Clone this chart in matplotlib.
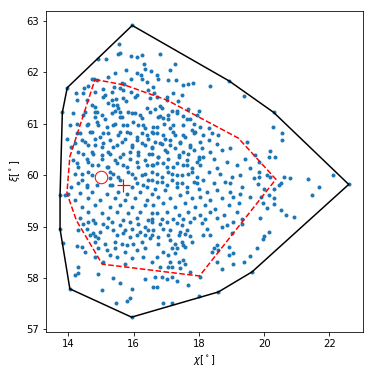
import numpy as np
import matplotlib
matplotlib.use("Agg")
import matplotlib.pyplot as plt

# sample points (chi, xi) in degrees
upper_left = [
    (15.55, 62.54), (15.51, 62.35), (15.60, 62.37), (14.90, 62.25), (15.16, 62.25),
    (15.91, 62.32), (16.11, 62.30), (16.26, 62.33), (16.33, 62.17), (15.43, 61.99),
    (15.76, 62.04), (16.11, 61.99), (16.23, 61.95), (16.35, 62.06), (14.72, 61.86),
    (14.80, 61.87), (14.87, 61.84), (15.23, 61.91), (15.64, 61.79), (15.72, 61.77),
    (15.92, 61.86), (16.25, 61.86), (16.40, 61.82), (14.48, 61.70), (14.61, 61.73),
    (15.07, 61.68), (15.41, 61.71), (15.58, 61.70), (14.24, 61.60), (14.82, 61.62),
    (15.69, 61.65), (15.92, 61.62), (16.05, 61.52), (16.45, 61.65), (14.26, 61.47),
    (14.56, 61.46), (15.07, 61.52), (15.33, 61.46), (15.45, 61.48), (15.69, 61.49),
    (15.76, 61.45), (16.51, 61.49), (14.72, 61.36), (14.82, 61.33), (15.23, 61.40),
    (15.38, 61.36), (15.49, 61.37), (15.53, 61.30), (16.40, 61.30), (14.51, 61.22),
    (14.87, 61.23), (15.42, 61.24), (15.58, 61.22), (15.84, 61.23), (16.05, 61.20),
    (16.25, 61.12), (14.82, 61.13), (15.13, 61.10), (15.64, 61.13), (15.96, 62.91),
    (13.97, 61.70), (13.82, 61.22), (16.52, 62.02),
    (14.46, 61.59), (15.13, 61.55), (15.33, 61.62), (16.10, 61.55), (16.71, 61.52),
]

upper_right = [
    (16.81, 62.36), (17.27, 62.17), (17.12, 62.04), (16.71, 61.95), (16.76, 61.86),
    (17.07, 61.84), (17.30, 61.84), (17.50, 61.75), (17.68, 61.78), (17.81, 61.80),
    (18.33, 61.73), (18.93, 61.83), (19.39, 61.53), (16.61, 61.72), (16.63, 61.60),
    (17.22, 61.60), (17.04, 61.51), (17.48, 61.55), (17.37, 61.44), (17.02, 61.46),
    (16.81, 61.34), (16.66, 61.28), (16.86, 61.30), (17.17, 61.25), (17.68, 61.28),
    (17.99, 61.25), (16.81, 61.15), (16.91, 61.12), (17.07, 61.10), (17.32, 61.20),
    (17.53, 61.15), (17.73, 61.10), (20.29, 61.22),
]

mid_left = [
    (14.05, 60.97), (14.56, 60.97), (14.92, 60.97), (15.38, 60.97), (15.79, 60.97),
    (16.15, 60.97), (16.35, 60.91),
    (14.26, 60.81), (14.72, 60.84), (15.07, 60.81), (15.58, 60.84), (15.89, 60.81),
    (16.25, 60.81), (16.56, 60.84),
    (13.95, 60.71), (14.41, 60.68), (14.82, 60.71), (15.28, 60.68), (15.74, 60.71),
    (16.10, 60.68), (16.45, 60.71),
    (14.10, 60.55), (14.61, 60.58), (15.02, 60.55), (15.48, 60.58), (15.94, 60.55),
    (16.35, 60.58),
    (14.31, 60.45), (14.77, 60.42), (15.23, 60.45), (15.69, 60.42), (16.15, 60.45),
    (16.56, 60.42),
    (14.15, 60.29), (14.56, 60.32), (15.02, 60.32), (15.43, 60.29), (15.89, 60.32),
    (16.35, 60.29),
    (14.31, 60.16), (14.72, 60.19), (15.23, 60.16), (15.69, 60.19), (16.15, 60.16),
    (16.56, 60.19),
    (14.21, 60.03), (14.61, 60.06), (15.38, 60.03), (15.84, 60.06), (16.35, 60.03),
    (14.41, 59.90), (15.28, 59.94), (15.58, 59.90), (16.05, 59.94), (16.45, 59.90),
    (14.10, 59.77), (14.56, 59.81), (14.87, 59.81), (15.33, 59.80), (15.94, 59.77),
    (16.30, 59.81),
    (14.00, 59.64), (14.36, 59.66), (14.72, 59.68), (15.18, 59.64), (15.53, 59.68),
    (15.79, 59.64), (16.20, 59.68), (16.56, 59.64),
    (14.21, 59.52), (14.61, 59.55), (14.97, 59.52), (15.43, 59.55), (15.74, 59.52),
    (16.05, 59.55), (16.40, 59.52),
    (14.41, 59.39), (14.82, 59.42), (15.28, 59.39), (15.58, 59.42), (15.94, 59.39),
    (16.35, 59.42),
    (14.61, 59.29), (15.02, 59.26), (15.48, 59.29), (15.84, 59.26), (16.20, 59.29),
    (16.56, 59.26),
    (14.36, 59.16), (14.77, 59.13), (15.23, 59.16), (15.69, 59.13), (16.10, 59.16),
    (16.45, 59.13),
    (13.75, 59.61), (13.90, 59.61),
]

# extra points in the dense core (x 14-18, xi 59.8-61.2)
core = [
    (14.15, 61.20), (14.46, 61.17), (14.82, 61.23), (15.02, 61.17), (15.33, 61.20),
    (15.59, 61.13), (15.94, 61.20), (16.20, 61.17), (16.51, 61.23), (16.76, 61.13),
    (17.07, 61.17), (17.32, 61.24), (17.63, 61.10), (17.94, 61.17),
    (14.26, 61.00), (14.60, 60.99), (14.87, 61.04), (15.18, 60.94), (15.43, 61.00),
    (15.69, 60.97), (15.99, 61.04), (16.30, 60.97), (16.61, 60.94), (16.92, 61.00),
    (17.22, 60.97), (17.84, 61.00),
    (14.36, 60.81), (14.67, 60.84), (14.97, 60.75), (15.23, 60.81), (15.53, 60.78),
    (15.79, 60.84), (16.10, 60.75), (16.40, 60.78), (16.71, 60.81), (16.97, 60.71),
    (17.27, 60.78), (17.58, 60.75), (17.89, 60.84),
    (14.21, 60.62), (14.51, 60.65), (14.82, 60.58), (15.07, 60.62), (15.38, 60.55),
    (15.64, 60.65), (15.94, 60.58), (16.25, 60.62), (16.56, 60.55), (16.81, 60.62),
    (17.12, 60.58), (17.43, 60.62), (17.73, 60.55),
    (14.46, 60.42), (14.72, 60.45), (15.02, 60.39), (15.28, 60.42), (15.59, 60.36),
    (15.89, 60.45), (16.15, 60.39), (16.46, 60.42), (16.76, 60.36), (17.02, 60.45),
    (17.38, 60.39), (17.68, 60.42), (17.99, 60.36),
    (14.26, 60.23), (14.61, 60.26), (14.92, 60.19), (15.18, 60.16), (15.48, 60.23),
    (15.79, 60.16), (16.10, 60.26), (16.40, 60.19), (16.71, 60.23), (17.02, 60.16),
    (17.32, 60.23), (17.63, 60.19), (17.94, 60.26),
    (14.41, 60.03), (14.72, 60.00), (15.28, 60.06), (15.53, 59.97), (15.94, 60.03),
    (16.25, 60.00), (16.56, 60.06), (16.86, 59.97), (17.17, 60.03), (17.48, 60.00),
    (17.78, 60.06),
    (14.31, 59.84), (14.56, 59.77), (15.28, 59.81), (16.10, 59.84), (16.40, 59.77),
    (16.71, 59.87), (17.02, 59.81), (17.32, 59.84), (17.63, 59.77), (17.94, 59.84),
]

mid_centre = [
    (16.71, 60.94), (17.12, 60.91), (17.53, 60.97), (17.78, 60.87), (18.04, 60.94),
    (18.30, 60.91),
    (16.61, 60.81), (16.91, 60.78), (17.22, 60.84), (17.53, 60.78), (17.84, 60.81),
    (18.14, 60.78), (18.40, 60.81), (18.60, 60.78),
    (16.66, 60.65), (16.86, 60.61), (17.12, 60.68), (17.43, 60.65), (17.73, 60.58),
    (18.04, 60.65), (18.30, 60.68), (18.55, 60.61), (18.96, 60.52), (19.47, 60.65),
    (16.56, 60.52), (16.97, 60.49), (17.27, 60.52), (17.53, 60.45), (17.84, 60.49),
    (18.09, 60.52), (18.35, 60.45), (18.70, 60.49),
    (16.76, 60.36), (17.07, 60.32), (17.38, 60.36), (17.63, 60.29), (17.99, 60.32),
    (18.14, 60.36), (18.45, 60.32), (18.86, 60.26), (19.42, 60.32),
    (16.61, 60.19), (16.91, 60.23), (17.22, 60.16), (17.53, 60.19), (17.78, 60.13),
    (18.04, 60.19), (18.55, 60.13), (19.16, 60.19), (19.57, 60.13),
    (16.71, 60.03), (17.07, 60.06), (17.32, 60.00), (17.68, 60.03), (17.94, 59.97),
    (18.30, 60.06), (18.65, 60.03), (19.01, 59.97), (19.27, 60.00),
    (16.56, 59.90), (16.86, 59.87), (17.17, 59.90), (17.48, 59.84), (17.84, 59.87),
    (18.14, 59.90), (18.45, 59.84), (18.81, 59.87), (18.96, 59.84), (19.32, 59.77),
    (19.68, 59.94),
    (16.66, 59.74), (16.97, 59.71), (17.32, 59.77), (17.63, 59.68), (17.99, 59.74),
    (18.24, 59.68), (18.55, 59.71), (18.96, 59.68), (19.27, 59.64),
    (16.76, 59.58), (17.12, 59.55), (17.43, 59.61), (17.78, 59.55), (18.04, 59.58),
    (18.35, 59.52), (18.70, 59.55), (19.06, 59.58), (19.57, 59.58),
    (16.61, 59.42), (16.91, 59.45), (17.27, 59.39), (17.58, 59.45), (17.89, 59.39),
    (18.19, 59.42), (18.50, 59.35), (18.91, 59.42), (19.22, 59.45),
    (16.71, 59.26), (17.02, 59.29), (17.38, 59.22), (17.68, 59.29), (18.04, 59.22),
    (18.35, 59.29), (18.76, 59.22), (19.16, 59.29),
    (16.56, 59.14), (16.86, 59.15), (17.22, 59.15), (17.53, 59.14), (17.84, 59.16),
    (18.19, 59.14), (18.55, 59.16), (19.32, 59.14),
]

mid_right = [
    (20.26, 60.93), (20.54, 60.81), (20.54, 60.68), (20.19, 60.47), (20.16, 60.36),
    (20.34, 60.36), (19.85, 60.06), (19.83, 59.97), (20.08, 60.01), (20.19, 59.97),
    (20.60, 59.97), (20.78, 59.95), (21.34, 59.92), (22.10, 60.01), (22.59, 59.82),
    (19.81, 59.82), (20.46, 59.81), (20.52, 59.84), (21.69, 59.77), (21.47, 59.62),
    (20.01, 59.73), (20.29, 59.73), (20.16, 59.62), (19.91, 59.58), (20.29, 59.55),
    (19.95, 59.45), (20.08, 59.37), (20.31, 59.43), (20.52, 59.32), (20.68, 59.22),
    (20.92, 59.19), (19.88, 59.17), (19.73, 60.39), (19.83, 60.26),
]

lower_left = [
    (13.75, 58.95), (13.83, 58.69),
    (14.46, 59.06), (14.61, 59.09), (14.82, 59.07), (15.07, 59.06), (15.33, 59.09),
    (15.58, 59.03), (15.89, 59.09), (16.15, 59.06), (16.35, 59.00),
    (14.31, 58.93), (14.56, 58.96), (14.77, 58.87), (14.97, 58.90), (15.18, 59.00),
    (15.38, 58.93), (15.74, 58.93), (15.94, 58.96), (16.20, 58.90), (16.45, 58.93),
    (14.66, 58.83), (14.82, 58.81), (14.92, 58.78), (15.48, 58.83), (15.69, 58.87),
    (15.89, 58.80), (16.10, 58.83), (16.35, 58.83),
    (14.26, 58.62), (14.41, 58.60), (14.82, 58.71), (15.13, 58.67), (15.43, 58.71),
    (15.64, 58.67), (15.79, 58.64), (15.99, 58.67), (16.25, 58.71), (16.51, 58.77),
    (14.51, 58.51), (14.92, 58.58), (15.18, 58.54), (15.43, 58.58), (15.74, 58.51),
    (16.10, 58.54), (16.35, 58.58),
    (14.82, 58.41), (15.28, 58.45), (15.48, 58.41), (15.94, 58.38), (16.30, 58.40),
    (15.07, 58.32), (15.74, 58.28),
    (14.29, 58.21), (14.22, 58.06), (14.31, 58.09), (14.92, 58.08), (15.38, 58.01),
    (15.58, 57.91), (16.35, 57.99),
    (14.05, 57.79), (15.02, 57.77), (15.96, 57.78),
    (15.45, 57.52), (15.81, 57.56), (15.89, 57.62), (15.94, 57.24),
]

lower_right = [
    (16.56, 59.09), (16.81, 59.06), (17.02, 59.09), (17.32, 59.07), (17.48, 59.03),
    (17.73, 59.09), (18.09, 59.07), (18.86, 59.03), (19.06, 59.09), (19.32, 59.06),
    (16.61, 58.93), (16.91, 58.96), (17.12, 58.93), (17.43, 58.90), (17.63, 58.93),
    (18.24, 58.96), (18.70, 59.00),
    (16.56, 58.83), (16.76, 58.80), (17.07, 58.83), (17.38, 58.83), (17.58, 58.85),
    (17.73, 58.82), (18.14, 58.83), (18.35, 58.83), (19.01, 58.87),
    (16.76, 58.67), (17.12, 58.74), (17.27, 58.67), (17.48, 58.71), (17.53, 58.64),
    (17.78, 58.71),
    (16.91, 58.51), (17.17, 58.58), (17.32, 58.58), (17.58, 58.61), (18.45, 58.58),
    (18.55, 58.64), (18.60, 58.54), (18.91, 58.61),
    (16.71, 58.41), (17.07, 58.45), (17.27, 58.48), (18.40, 58.51),
    (16.56, 58.32), (17.12, 58.32), (17.38, 58.32), (17.53, 58.35), (17.58, 58.28),
    (18.55, 58.32), (18.91, 58.45), (19.06, 58.48), (19.06, 58.28), (19.57, 58.43),
    (16.81, 58.22), (17.07, 58.22), (17.17, 58.22), (17.43, 58.19), (17.73, 58.12),
    (18.70, 58.17), (19.37, 58.32), (18.04, 58.03),
    (16.66, 58.03), (16.86, 58.03), (17.02, 57.99), (17.17, 58.03), (17.34, 57.95),
    (16.61, 57.83), (16.71, 57.83), (17.68, 57.86),
    (16.91, 57.51), (17.17, 57.51), (18.02, 57.66), (18.60, 57.73), (19.63, 58.12),
    (19.78, 58.58), (19.95, 58.75), (20.01, 58.82), (20.14, 58.90),
]

# red dashed region and the two red markers
region_chi = [14.82, 15.74, 17.02, 19.21, 20.36, 18.02, 15.04, 14.25, 13.96,
              14.05, 14.82]
region_xi = [61.86, 61.75, 61.46, 60.72, 59.92, 58.04, 58.27, 59.12, 59.65,
             60.36, 61.86]
circle_pt = (14.99, 59.97)
plus_pt = (15.69, 59.81)


def convex_hull(pts):
    pts = sorted(set(map(tuple, pts)))

    def cross(o, a, b):
        return (a[0] - o[0]) * (b[1] - o[1]) - (a[1] - o[1]) * (b[0] - o[0])

    lower, upper = [], []
    for p in pts:
        while len(lower) >= 2 and cross(lower[-2], lower[-1], p) <= 0:
            lower.pop()
        lower.append(p)
    for p in reversed(pts):
        while len(upper) >= 2 and cross(upper[-2], upper[-1], p) <= 0:
            upper.pop()
        upper.append(p)
    hull = lower[:-1] + upper[:-1]
    return np.array(hull + [hull[0]])


pts = np.array(upper_left + upper_right + mid_left + core + mid_centre + mid_right
               + lower_left + lower_right)
hull = convex_hull(pts)

fig = plt.figure(figsize=(374 / 72, 374 / 72), dpi=72)
ax = fig.add_axes([0.122, 0.113, 0.849, 0.858])

ax.scatter(pts[:, 0], pts[:, 1], s=16, color="#1f77b4", linewidths=0, zorder=2)
ax.plot(hull[:, 0], hull[:, 1], "k-", lw=1.5, zorder=3)
ax.plot(region_chi, region_xi, "r--", lw=1.5, zorder=4)
ax.plot(*circle_pt, "o", mfc="none", mec="r", ms=12.5, mew=1.0, zorder=5)
ax.plot(*plus_pt, "r+", ms=13, mew=1.2, zorder=5)

ax.set_xlabel(r"$\chi[^\circ]$")
ax.set_ylabel(r"$\xi[^\circ]$")

fig.savefig("out.png", dpi=72)
